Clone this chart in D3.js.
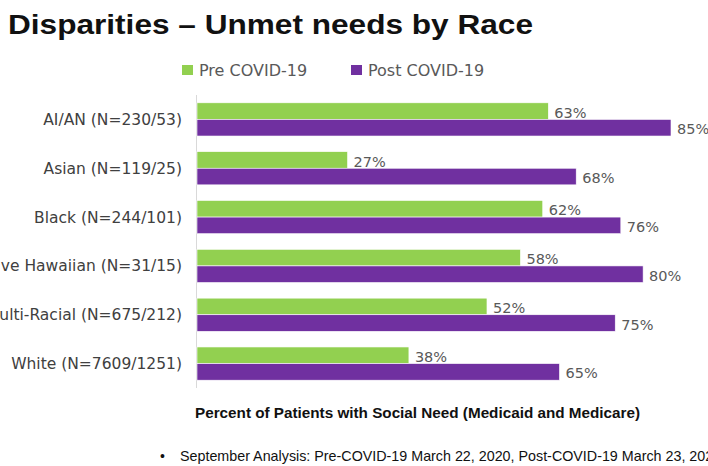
<!DOCTYPE html>
<html>
<head>
<meta charset="utf-8">
<script src="https://cdn.jsdelivr.net/npm/d3@7"></script>
<style>
  body { margin: 0; background: #fff; overflow: hidden; }
  svg { display: block; }
</style>
</head>
<body>
<div id="chart"></div>
<script>
// data
const categories = ["AI/AN (N=230/53)", "Asian (N=119/25)", "Black (N=244/101)",
  "Native Hawaiian (N=31/15)", "Multi-Racial (N=675/212)", "White (N=7609/1251)"];
const seriesNames = ["Pre COVID-19", "Post COVID-19"];
const preValues = [63, 27, 62, 58, 52, 38];
const postValues = [85, 68, 76, 80, 75, 65];
const colors = ["#92d050", "#7030a0"];

const width = 708, height = 466;

const svg = d3.select("#chart")
  .append("svg")
  .attr("width", width)
  .attr("height", height);

// title
svg.append("text")
  .attr("x", 8)
  .attr("y", 34)
  .attr("font-family", "Liberation Sans, Arial, sans-serif")
  .attr("font-size", 27)
  .attr("font-weight", "bold")
  .attr("fill", "#111")
  .attr("textLength", 525)
  .attr("lengthAdjust", "spacingAndGlyphs")
  .text("Disparities \u2013 Unmet needs by Race");

// scales
const x = d3.scaleLinear()
  .domain([0, 85])
  .range([197, 671]);

const y = d3.scaleBand()
  .domain(categories)
  .range([95, 388])
  .paddingInner(0.32)
  .paddingOuter(0.16);

const ySub = d3.scaleBand()
  .domain(seriesNames)
  .range([0, y.bandwidth()]);

const rows = categories.map((c, i) => ({ cat: c, vals: [preValues[i], postValues[i]] }));

// baseline axis
svg.append("line")
  .attr("x1", x(0) - 0.5).attr("x2", x(0) - 0.5)
  .attr("y1", 95).attr("y2", 388)
  .attr("stroke", "#d9d9d9")
  .attr("stroke-width", 1);

// category labels
svg.append("g")
  .selectAll("text")
  .data(categories)
  .join("text")
  .attr("x", 182)
  .attr("y", d => y(d) + y.bandwidth() / 2)
  .attr("dy", "0.35em")
  .attr("text-anchor", "end")
  .attr("font-family", "DejaVu Sans, sans-serif")
  .attr("font-size", 15.5)
  .attr("fill", "#404040")
  .text(d => d);

// bars
const groups = svg.append("g")
  .selectAll("g")
  .data(rows)
  .join("g")
  .attr("transform", d => "translate(0," + y(d.cat) + ")");

groups.selectAll("rect")
  .data(d => d.vals.map((v, j) => ({ name: seriesNames[j], value: v, j: j })))
  .join("rect")
  .attr("x", x(0))
  .attr("y", d => ySub(d.name))
  .attr("width", d => x(d.value) - x(0))
  .attr("height", ySub.bandwidth())
  .attr("fill", d => colors[d.j])
  .attr("stroke", "#ffffff")
  .attr("stroke-width", 0.6);

groups.selectAll("text")
  .data(d => d.vals.map((v, j) => ({ name: seriesNames[j], value: v, j: j })))
  .join("text")
  .attr("x", d => x(d.value) + 6)
  .attr("y", d => ySub(d.name) + ySub.bandwidth() / 2 + 1.5)
  .attr("dy", "0.35em")
  .attr("font-family", "DejaVu Sans, sans-serif")
  .attr("font-size", 14.5)
  .attr("fill", "#595959")
  .text(d => d.value + "%");

// legend
const legend = svg.append("g");
const legendX = [182, 351];
seriesNames.forEach((n, j) => {
  legend.append("rect")
    .attr("x", legendX[j])
    .attr("y", 65)
    .attr("width", 11)
    .attr("height", 10)
    .attr("fill", colors[j]);
  legend.append("text")
    .attr("x", legendX[j] + 17)
    .attr("y", 75.5)
    .attr("font-family", "DejaVu Sans, sans-serif")
    .attr("font-size", 16)
    .attr("fill", "#595959")
    .text(n);
});

// axis title
svg.append("text")
  .attr("x", 195)
  .attr("y", 418)
  .attr("font-family", "Liberation Sans, Arial, sans-serif")
  .attr("font-size", 14)
  .attr("font-weight", "bold")
  .attr("fill", "#111")
  .attr("textLength", 445)
  .attr("lengthAdjust", "spacingAndGlyphs")
  .text("Percent of Patients with Social Need (Medicaid and Medicare)");

// footnote
svg.append("text")
  .attr("x", 160)
  .attr("y", 461)
  .attr("font-family", "Liberation Sans, Arial, sans-serif")
  .attr("font-size", 14)
  .attr("fill", "#111")
  .text("\u2022");
svg.append("text")
  .attr("x", 180)
  .attr("y", 461)
  .attr("font-family", "Liberation Sans, Arial, sans-serif")
  .attr("font-size", 14.3)
  .attr("fill", "#111")
  .text("September Analysis: Pre-COVID-19 March 22, 2020, Post-COVID-19 March 23, 2020");
</script>
</body>
</html>
